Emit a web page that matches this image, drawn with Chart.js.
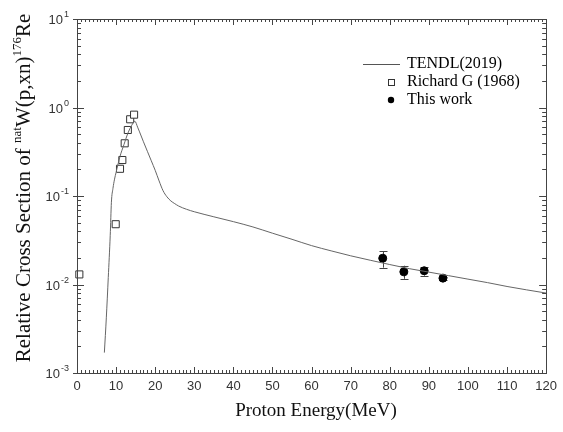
<!DOCTYPE html>
<html>
<head>
<meta charset="utf-8">
<script src="https://cdn.jsdelivr.net/npm/chart.js@4"></script>
<style>
  body { margin: 0; background: #fff; }
  #wrap { width: 563px; height: 432px; position: relative; }
</style>
</head>
<body>
<div id="wrap"><canvas id="plot"></canvas></div>
<script>
// TENDL(2019) calculation
const tendlEnergy = [7, 7.5, 8, 8.5, 8.8, 9.2, 9.6, 10, 11, 12, 13, 14, 14.8, 15.5, 16, 17, 18, 19, 20, 21, 22, 23, 24, 25, 26, 28, 30, 35, 40, 45, 50, 55, 60, 65, 70, 75, 80, 85, 90, 95, 100, 105, 110, 115, 120];
const tendlValue = [0.0017, 0.0042, 0.012, 0.036, 0.085, 0.122, 0.155, 0.185, 0.28, 0.38, 0.51, 0.63, 0.70, 0.60, 0.53, 0.41, 0.32, 0.25, 0.195, 0.148, 0.115, 0.098, 0.088, 0.082, 0.077, 0.0708, 0.0664, 0.0582, 0.0513, 0.0447, 0.038, 0.0324, 0.0275, 0.024, 0.0211, 0.0188, 0.0168, 0.0151, 0.0138, 0.0126, 0.0115, 0.0105, 0.0095, 0.0087, 0.0080];

// Richard G (1968)
const richardEnergy = [0.6, 9.9, 11.0, 11.6, 12.2, 13.0, 13.6, 14.6];
const richardValue = [0.013, 0.048, 0.203, 0.255, 0.394, 0.557, 0.736, 0.83];

// This work
const workEnergy = [78.2, 83.6, 88.8, 93.6];
const workValue = [0.0198, 0.0139, 0.0143, 0.0118];
const workLow = [0.0155, 0.0116, 0.0126, 0.0113];
const workHigh = [0.0238, 0.0163, 0.0157, 0.0123];

const yDecades = [0.001, 0.01, 0.1, 1, 10];
const yExponents = ['-3', '-2', '-1', '0', '1'];

const sansFont = '"Liberation Sans", Arial, sans-serif';
const serifFont = '"Liberation Serif", "Times New Roman", serif';
const axisColor = '#444';

function toPoints(xs, ys) {
  return xs.map((x, i) => ({ x: x, y: ys[i] }));
}

const errorBars = {
  id: 'errorBars',
  beforeDatasetsDraw(chart) {
    const ctx = chart.ctx;
    const xs = chart.scales.x, ys = chart.scales.y;
    ctx.save();
    ctx.strokeStyle = axisColor;
    ctx.lineWidth = 1;
    workEnergy.forEach((e, i) => {
      const px = Math.round(xs.getPixelForValue(e)) + 0.5;
      const lo = ys.getPixelForValue(workLow[i]);
      const hi = ys.getPixelForValue(workHigh[i]);
      ctx.beginPath();
      ctx.moveTo(px, lo); ctx.lineTo(px, hi);
      ctx.moveTo(px - 4, Math.round(lo) + 0.5); ctx.lineTo(px + 4, Math.round(lo) + 0.5);
      ctx.moveTo(px - 4, Math.round(hi) + 0.5); ctx.lineTo(px + 4, Math.round(hi) + 0.5);
      ctx.stroke();
    });
    ctx.restore();
  }
};

// frame, inward ticks, y labels, titles and legend
const decorations = {
  id: 'decorations',
  afterDraw(chart) {
    const ctx = chart.ctx;
    const a = chart.chartArea;
    const xs = chart.scales.x, ys = chart.scales.y;
    ctx.save();
    ctx.strokeStyle = axisColor;
    ctx.lineWidth = 1;
    ctx.strokeRect(Math.round(a.left) + 0.5, Math.round(a.top) + 0.5, Math.round(a.right - a.left), Math.round(a.bottom - a.top));

    ctx.beginPath();
    for (let v = 0; v <= 120; v++) {
      const px = Math.round(xs.getPixelForValue(v)) + 0.5;
      const len = v % 10 === 0 ? 6 : 3;
      ctx.moveTo(px, a.bottom); ctx.lineTo(px, a.bottom - len);
      ctx.moveTo(px, a.top); ctx.lineTo(px, a.top + len);
    }
    for (let d = 0; d < yDecades.length; d++) {
      const base = yDecades[d];
      const py = Math.round(ys.getPixelForValue(base)) + 0.5;
      ctx.moveTo(a.left - 4, py); ctx.lineTo(a.left + 7, py);
      ctx.moveTo(a.right, py); ctx.lineTo(a.right - 7, py);
      if (d === yDecades.length - 1) break;
      for (let m = 2; m <= 9; m++) {
        const pm = Math.round(ys.getPixelForValue(base * m)) + 0.5;
        ctx.moveTo(a.left, pm); ctx.lineTo(a.left + 4, pm);
        ctx.moveTo(a.right, pm); ctx.lineTo(a.right - 4, pm);
      }
    }
    ctx.stroke();

    // y tick labels with superscripts
    ctx.fillStyle = '#333';
    ctx.textBaseline = 'alphabetic';
    yDecades.forEach((v, i) => {
      const py = ys.getPixelForValue(v);
      ctx.font = '9px ' + sansFont;
      const ew = ctx.measureText(yExponents[i]).width;
      ctx.textAlign = 'right';
      ctx.fillText(yExponents[i], a.left - 8, py - 2);
      ctx.font = '13px ' + sansFont;
      ctx.fillText('10', a.left - 9 - ew, py + 5);
    });

    // x title
    ctx.fillStyle = '#111';
    ctx.font = '19px ' + serifFont;
    ctx.textAlign = 'center';
    ctx.fillText('Proton Energy(MeV)', 316, 416);

    // y title, rotated, with superscripts
    const parts = [
      ['Relative Cross Section of ', 21, 0],
      ['nat', 13, -9],
      ['W(p,xn)', 21, 0],
      ['176', 13, -9],
      ['Re', 21, 0]
    ];
    let total = 0;
    parts.forEach(p => { ctx.font = p[1] + 'px ' + serifFont; total += ctx.measureText(p[0]).width; });
    ctx.translate(30, 188);
    ctx.rotate(-Math.PI / 2);
    ctx.textAlign = 'left';
    let cx = -total / 2;
    parts.forEach(p => {
      ctx.font = p[1] + 'px ' + serifFont;
      ctx.fillText(p[0], cx, p[2]);
      cx += ctx.measureText(p[0]).width;
    });
    ctx.setTransform(1, 0, 0, 1, 0, 0);

    // legend
    ctx.font = '16px ' + serifFont;
    ctx.textAlign = 'left';
    ctx.textBaseline = 'middle';
    ctx.fillStyle = '#000';
    ctx.strokeStyle = '#555';
    ctx.beginPath();
    ctx.moveTo(363, 64.5); ctx.lineTo(400, 64.5);
    ctx.stroke();
    ctx.fillText('TENDL(2019)', 407, 64);
    ctx.strokeStyle = '#333';
    ctx.strokeRect(388.5, 79.5, 6, 6);
    ctx.fillText('Richard G (1968)', 407, 82);
    ctx.beginPath();
    ctx.arc(391, 100, 3.2, 0, Math.PI * 2);
    ctx.fill();
    ctx.fillText('This work', 407, 100);
    ctx.restore();
  }
};

const chart = new Chart(document.getElementById('plot'), {
  type: 'scatter',
  data: {
    datasets: [
      {
        label: 'TENDL(2019)',
        data: toPoints(tendlEnergy, tendlValue),
        showLine: true,
        borderColor: '#666',
        borderWidth: 1,
        pointRadius: 0,
        cubicInterpolationMode: 'monotone'
      },
      {
        label: 'Richard G (1968)',
        data: toPoints(richardEnergy, richardValue),
        pointStyle: 'rect',
        pointRadius: 5,
        borderColor: '#333',
        borderWidth: 1,
        backgroundColor: '#fff',
        clip: false
      },
      {
        label: 'This work',
        data: toPoints(workEnergy, workValue),
        pointStyle: 'circle',
        pointRadius: 4,
        borderColor: '#000',
        backgroundColor: '#000'
      }
    ]
  },
  options: {
    responsive: true,
    maintainAspectRatio: false,
    animation: false,
    layout: { padding: { top: 19, right: 12, left: 0, bottom: 0 } },
    plugins: {
      legend: { display: false },
      tooltip: { enabled: false }
    },
    scales: {
      x: {
        type: 'linear',
        min: 0,
        max: 120,
        grid: { display: false, drawTicks: false },
        border: { display: false },
        ticks: {
          stepSize: 10,
          padding: 6,
          color: '#333',
          font: { family: sansFont, size: 13 }
        },
        afterFit(s) { s.height = 59; }
      },
      y: {
        type: 'logarithmic',
        min: 0.001,
        max: 10,
        grid: { display: false, drawTicks: false },
        border: { display: false },
        ticks: { display: false },
        afterFit(s) { s.width = 77; }
      }
    }
  },
  plugins: [errorBars, decorations]
});
</script>
</body>
</html>
